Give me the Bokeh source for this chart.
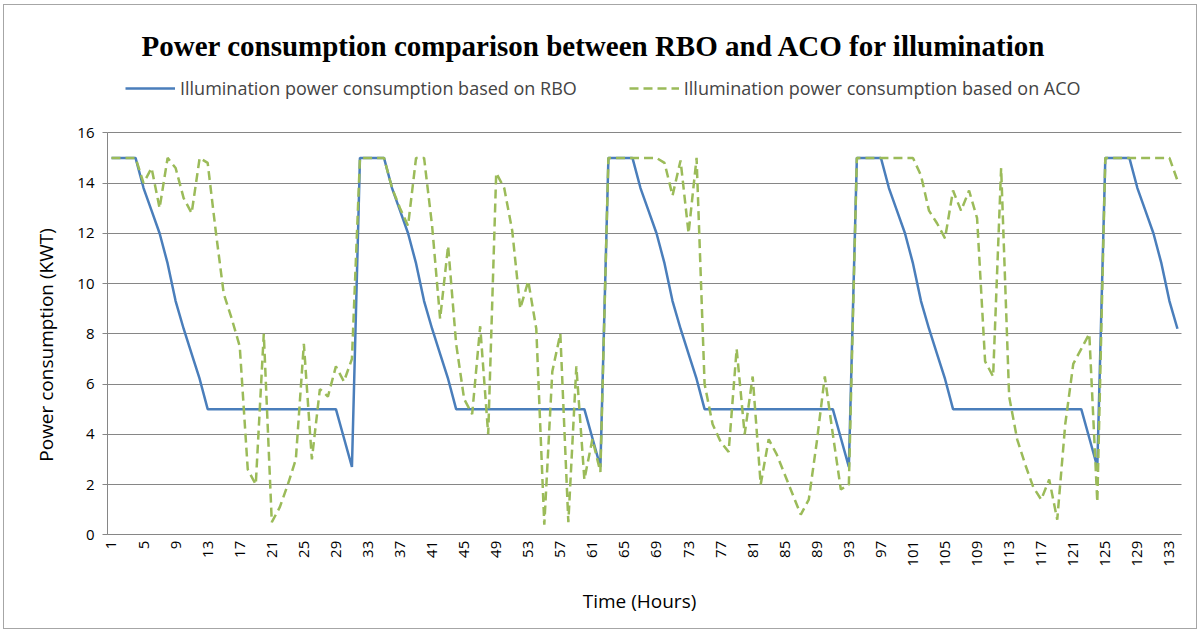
import math
from bokeh.plotting import figure
from bokeh.models import Range1d, FixedTicker, Legend, LegendItem, Label, ColumnDataSource
from bokeh.embed import file_html
from bokeh.resources import INLINE

# ---- data ----
hours = list(range(1, 135))

rbo = [
    15, 15, 15, 15, 13.8, 12.9, 12.0, 10.8, 9.3, 8.2,
    7.2, 6.2, 5.0, 5, 5, 5, 5, 5, 5, 5,
    5, 5, 5, 5, 5, 5, 5, 5, 5, 3.85,
    2.7, 15, 15, 15, 15, 13.8, 12.9, 12.0, 10.8, 9.3,
    8.2, 7.2, 6.2, 5.0, 5, 5, 5, 5, 5, 5,
    5, 5, 5, 5, 5, 5, 5, 5, 5, 5,
    3.85, 2.7, 15, 15, 15, 15, 13.8, 12.9, 12.0, 10.8,
    9.3, 8.2, 7.2, 6.2, 5.0, 5, 5, 5, 5, 5,
    5, 5, 5, 5, 5, 5, 5, 5, 5, 5,
    5, 3.85, 2.7, 15, 15, 15, 15, 13.8, 12.9, 12.0,
    10.8, 9.3, 8.2, 7.2, 6.2, 5.0, 5, 5, 5, 5,
    5, 5, 5, 5, 5, 5, 5, 5, 5, 5,
    5, 5, 3.85, 2.7, 15, 15, 15, 15, 13.8, 12.9,
    12.0, 10.8, 9.3, 8.2,
]

aco = [
    15, 15, 15, 15, 14.0, 14.6, 13.0, 15, 14.6, 13.4,
    12.8, 15, 14.8, 12.1, 9.6, 8.6, 7.5, 2.6, 2.0, 8.0,
    0.5, 1.1, 2.0, 3.0, 7.6, 3.0, 5.8, 5.5, 6.7, 6.1,
    7.0, 15, 15, 15, 15, 13.8, 13.0, 12.3, 15, 15,
    12.3, 8.6, 11.5, 7.6, 5.4, 4.8, 8.3, 4.0, 14.4, 13.8,
    12.1, 9.0, 10.1, 8.2, 0.4, 6.5, 8.0, 0.5, 6.7, 2.2,
    3.8, 2.5, 15, 15, 15, 15, 15, 15, 15, 14.8,
    13.5, 14.9, 12.0, 15, 6.0, 4.4, 3.7, 3.3, 7.4, 4.0,
    6.3, 2.0, 3.8, 3.2, 2.4, 1.6, 0.8, 1.4, 3.7, 6.3,
    4.0, 1.8, 2.0, 15, 15, 15, 15, 15, 15, 15,
    15, 14.3, 12.9, 12.4, 11.8, 13.7, 12.9, 13.7, 12.6, 6.9,
    6.3, 14.6, 5.5, 3.8, 2.8, 1.9, 1.4, 2.2, 0.6, 4.4,
    6.8, 7.4, 8.0, 1.3, 15, 15, 15, 15, 15, 15,
    15, 15, 15, 14.1,
]

x_tick_values = list(range(1, 134, 4))
y_tick_values = [0, 2, 4, 6, 8, 10, 12, 14, 16]

title_text = "Power consumption  comparison  between RBO and ACO for illumination"
rbo_name = "Illumination power consumption based on RBO"
aco_name = "Illumination power consumption based on ACO"
x_title = "Time (Hours)"
y_title = "Power consumption  (KWT)"

src = ColumnDataSource(dict(h=hours, rbo=rbo, aco=aco))

# The plot frame covers the whole canvas; the axes are pinned at x=0.5 / y=0
# and bounded, so that titles and the legend can be placed freely.
p = figure(width=1201, height=635, output_backend="svg", toolbar_location=None,
           x_range=Range1d(-12.85, 137.0), y_range=Range1d(-4.01, 21.265),
           min_border_left=0, min_border_right=0, min_border_top=0,
           min_border_bottom=0)
p.outline_line_color = None
p.background_fill_color = "white"
p.border_fill_color = "white"
p.stylesheets = [
    ":host { position: relative; }"
    ":host::after { content: ''; position: absolute; left: 3px; top: 4px; "
    "right: 4px; bottom: 6px; border: 1px solid #a6a6a6; pointer-events: none; z-index: 100; }"
]

blue = "#4a7ebb"
green = "#9bbb59"
r1 = p.line("h", "rbo", source=src, line_color=blue, line_width=2.5)
r2 = p.line("h", "aco", source=src, line_color=green, line_width=2.5, line_dash="9 5")

# axes
p.xaxis.ticker = FixedTicker(ticks=x_tick_values)
p.yaxis.ticker = FixedTicker(ticks=y_tick_values)
p.xaxis.fixed_location = 0
p.yaxis.fixed_location = 0.5
p.xaxis.bounds = (0.5, 134.5)
p.yaxis.bounds = (0, 16)
p.xaxis.major_label_orientation = math.pi / 2
for ax in (p.xaxis[0], p.yaxis[0]):
    ax.axis_line_color = "#868686"
    ax.major_tick_line_color = "#868686"
    ax.minor_tick_line_color = None
    ax.major_label_text_font = "Open Sans"
    ax.major_label_text_font_size = "15px"
    ax.major_label_text_color = "#000000"
p.yaxis.major_tick_out = 5
p.yaxis.major_tick_in = 0
p.xaxis.major_tick_out = 0
p.xaxis.major_tick_in = 0
p.yaxis.major_label_standoff = 8
p.xaxis.major_label_standoff = 6

p.xgrid.grid_line_color = None
p.ygrid.grid_line_color = "#868686"
p.ygrid.grid_line_width = 1
p.ygrid.bounds = (0, 16)
p.ygrid.cross_bounds = (0.5, 134.5)

# texts (screen px measured from the frame's bottom-left = canvas bottom-left)
p.add_layout(Label(x=601, y=590, x_units="screen", y_units="screen", text=title_text,
                   text_align="center", text_baseline="middle",
                   text_font="Liberation Serif", text_font_style="bold",
                   text_font_size="29px", text_color="#000000"))
p.add_layout(Label(x=639, y=35, x_units="screen", y_units="screen", text=x_title,
                   text_align="center", text_baseline="middle",
                   text_font="Open Sans", text_font_size="19px", text_color="#000000"))
p.add_layout(Label(x=45, y=293, x_units="screen", y_units="screen", text=y_title,
                   angle=math.pi / 2, text_align="center", text_baseline="middle",
                   text_font="Open Sans", text_font_size="19px", text_color="#000000"))

# legend
legend = Legend(items=[LegendItem(label=rbo_name, renderers=[r1]),
                       LegendItem(label=aco_name, renderers=[r2])],
                orientation="horizontal", location=(125, 535),
                border_line_color=None, background_fill_alpha=0,
                label_text_font="Open Sans", label_text_font_size="18px",
                glyph_width=50, label_standoff=5, spacing=52, padding=0, margin=0)
p.add_layout(legend, "center")

open("out.html", "w").write(file_html(p, INLINE))
